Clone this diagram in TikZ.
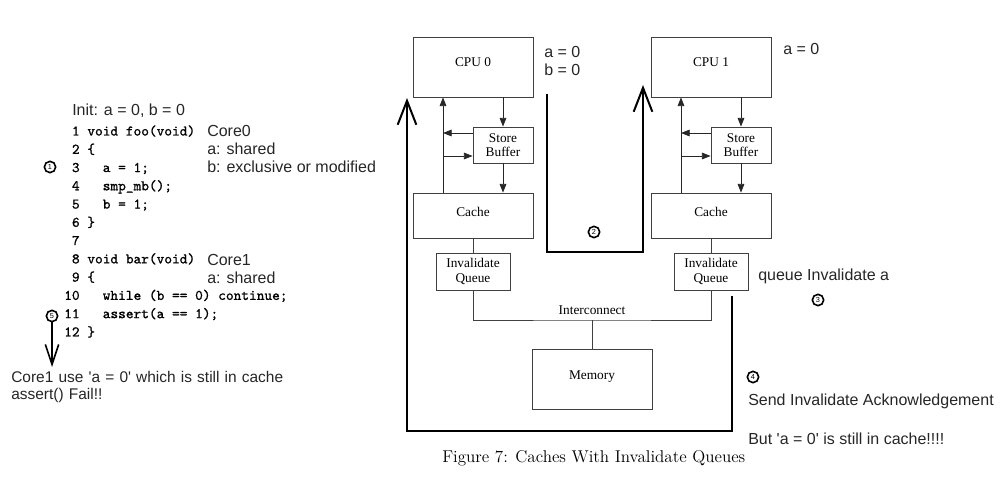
\documentclass[tikz,border=0pt]{standalone}
\usepackage{fontspec}
\usetikzlibrary{positioning,arrows.meta,calc}
\newfontfamily\notefont{Liberation Sans}
\newfontfamily\figfont{Liberation Serif}
\newfontfamily\codefont{Latin Modern Mono}[FakeBold=1]
\tikzset{
  unit/.style={rectangle,draw=black!75,line width=0.6pt,align=center,inner sep=1pt,
    font=\figfont\fontsize{10}{11}\selectfont},
  bigunit/.style={unit,minimum width=90pt},
  smallunit/.style={unit,minimum width=45pt,minimum height=27pt},
  queueunit/.style={unit,minimum width=55.5pt,minimum height=27.75pt},
  remark/.style={anchor=west,align=left,inner sep=0pt,text=black!85,
    font=\notefont\fontsize{12}{13.3}\selectfont},
  stepmark/.style={circle,draw,line width=1.2pt,inner sep=0pt,minimum size=8.5pt,
    font=\notefont\fontsize{5.5}{5.5}\selectfont},
  bus/.style={draw=black!75,line width=0.6pt},
  feed/.style={-{Triangle[length=6.5pt,width=5pt]},draw=black!85,line width=0.6pt},
  bigflow/.style={-{Straight Barb[length=18pt,width=14pt]},line width=1.5pt},
}

\begin{document}
\begin{tikzpicture}[x=0.75pt,y=-0.75pt]
  \useasboundingbox (0,0) rectangle (1002,484);
  % program and its notes
  \node[remark] (init) at (72,111) {Init: a = 0, b = 0};
  \node[anchor=base west,inner sep=0pt,font=\codefont\fontsize{11}{13.7}\selectfont] (code) at (64,135.5)
    {\begin{tabular}[t]{@{}r@{\ }l@{}}
      1 & void foo(void)\\
      2 & \{\\
      3 & \ \ a = 1;\\
      4 & \ \ smp\_mb();\\
      5 & \ \ b = 1;\\
      6 & \}\\
      7 & \\
      8 & void bar(void)\\
      9 & \{\\
      10 & \ \ while (b == 0) continue;\\
      11 & \ \ assert(a == 1);\\
      12 & \}
    \end{tabular}};
  \node[remark] (core0note) at (207,149) {Core0\\a: shared\\b: exclusive or modified};
  \node[remark] (core1note) at (207,269) {Core1\\a: shared};
  \node[stepmark] (s1) at (50,167) {1};
  \node[stepmark] (s5) at (52,316) {5};
  \coordinate (failtip) at (52,367);
  \draw[-{Straight Barb[length=15pt,width=10pt]},line width=1.2pt] (s5.south) -- (failtip);
  \node[remark,text width=300pt,font=\notefont\fontsize{11.6}{13.3}\selectfont] (failnote) at (11,387)
    {Core1 use 'a = 0' which is still in cache\\assert() Fail!!};

  % CPU 0 side
  \node[bigunit,minimum height=45pt,text depth=7pt] (cpu0) at (473,67) {CPU 0};
  \node[smallunit] (sb0) at (503,145) {Store\\Buffer};
  \node[bigunit,minimum height=33.75pt,text depth=5pt] (cache0) at (473,215.5) {Cache};
  \node[queueunit] (iq0) at (473,271.5) {Invalidate\\Queue};
  \coordinate (rd0) at ([xshift=-22.5pt]cache0.north);
  \coordinate (sb0out) at ([yshift=9pt]sb0.west);
  \coordinate (sb0in) at ([yshift=-8.25pt]sb0.west);
  \draw[feed] (sb0.north |- cpu0.south) -- (sb0.north);
  \draw[feed] (sb0.south) -- (sb0.south |- cache0.north);
  \draw[feed] (rd0) -- (rd0 |- cpu0.south);
  \draw[feed] (sb0out) -- (rd0 |- sb0out);
  \draw[feed] (rd0 |- sb0in) -- (sb0in);
  \draw[bus] (cache0) -- (iq0);

  % CPU 1 side
  \node[bigunit,minimum height=45pt,text depth=7pt] (cpu1) at (711,67) {CPU 1};
  \node[smallunit] (sb1) at (741,145) {Store\\Buffer};
  \node[bigunit,minimum height=33.75pt,text depth=5pt] (cache1) at (711,215.5) {Cache};
  \node[queueunit] (iq1) at (711,271.5) {Invalidate\\Queue};
  \coordinate (rd1) at ([xshift=-22.5pt]cache1.north);
  \coordinate (sb1out) at ([yshift=9pt]sb1.west);
  \coordinate (sb1in) at ([yshift=-8.25pt]sb1.west);
  \draw[feed] (sb1.north |- cpu1.south) -- (sb1.north);
  \draw[feed] (sb1.south) -- (sb1.south |- cache1.north);
  \draw[feed] (rd1) -- (rd1 |- cpu1.south);
  \draw[feed] (sb1out) -- (rd1 |- sb1out);
  \draw[feed] (rd1 |- sb1in) -- (sb1in);
  \draw[bus] (cache1) -- (iq1);

  % interconnect and memory
  \node[unit,minimum width=90pt,minimum height=45pt,text depth=6pt] (mem) at (592,379) {Memory};
  \coordinate (bus) at (592,320);
  \draw[bus] (iq0.south) |- (bus) -| (iq1.south);
  \draw[bus] (bus) -- (mem.north);
  \node[font=\figfont\fontsize{10}{11}\selectfont,anchor=south,inner sep=1pt] (buslabel) at (592,316) {Interconnect};

  % message flows
  \coordinate (p2start) at (547,94);
  \coordinate (p2low) at (547,252);
  \coordinate (p2tip) at (643,85);
  \draw[bigflow] (p2start) -- (p2low) -| (p2tip);
  \node[stepmark] (s2) at (594,232) {2};
  \coordinate (ackstart) at (732,296);
  \coordinate (acklow) at (732,431);
  \coordinate (acktip) at (407,98);
  \draw[bigflow] (ackstart) -- (acklow) -| (acktip);

  \node[remark] (vals0) at (544,61) {a = 0\\b = 0};
  \node[remark] (vals1) at (783,49) {a = 0};
  \node[remark] (qnote) at (758,276) {queue Invalidate a};
  \node[stepmark] (s3) at (818,300) {3};
  \node[stepmark] (s4) at (753,377) {4};
  \node[remark] (acknote) at (748,401) {Send Invalidate Acknowledgement};
  \node[remark] (stale) at (748,439) {But 'a = 0' is still in cache!!!!};

  \node[anchor=west,inner sep=0pt,font=\fontsize{12.8}{15}\selectfont] (caption) at (442,458)
    {Figure 7: Caches With Invalidate Queues};
\end{tikzpicture}
\end{document}
